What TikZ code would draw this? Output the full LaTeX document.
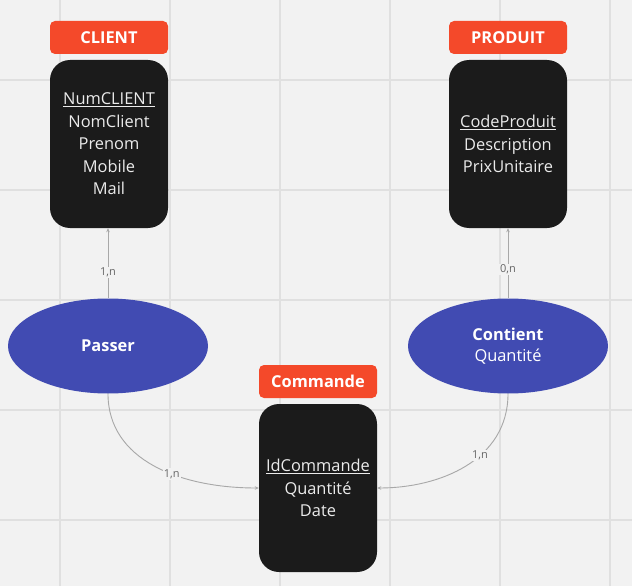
\documentclass[tikz,border=0pt]{standalone}
\usepackage{fontspec}
\setmainfont{Open Sans}
\usetikzlibrary{shapes.geometric,arrows.meta}
\definecolor{bgc}{HTML}{F2F2F2}
\definecolor{gridc}{HTML}{E0E0E0}
\definecolor{orangec}{HTML}{F4492A}
\definecolor{boxc}{HTML}{1B1B1B}
\definecolor{bluec}{HTML}{414BB2}
\definecolor{linec}{HTML}{A8A8A8}
\definecolor{lblc}{HTML}{666666}
\definecolor{txtc}{HTML}{EBEBEB}
\tikzset{
  title/.style={draw=none, fill=orangec, rounded corners=5pt, minimum width=118pt, minimum height=33pt, inner sep=0pt, text=white, font=\fontsize{16.4}{18}\selectfont\bfseries},
  entity/.style={fill=boxc, rounded corners=20pt, minimum width=118pt, minimum height=168pt, inner sep=0pt, text=txtc, align=center, font=\fontsize{16.4}{22.5}\selectfont},
  assoc/.style={ellipse, fill=bluec, minimum width=200pt, minimum height=95pt, inner sep=0pt, text=white, align=center, font=\fontsize{16.4}{21.5}\selectfont},
  conn/.style={draw=linec, line width=0.9pt, -{Stealth[length=4pt,width=3.5pt]}},
  card/.style={fill=bgc, text=lblc, inner sep=1pt, font=\fontsize{11}{12}\selectfont},
}
\begin{document}
\begin{tikzpicture}[x=1pt,y=-1pt]
\useasboundingbox (0,0) rectangle (632,586);
\fill[bgc] (0,0) rectangle (632,586);
\foreach \gx in {60,170,280,390,500,610} \draw[gridc, line width=1.2pt] (\gx,0) -- (\gx,586);
\foreach \gy in {80,190,300,410,520} \draw[gridc, line width=1.2pt] (0,\gy) -- (632,\gy);

\node[title] (tclient) at (109,37.5) {CLIENT};
\node[entity] (client) at (109,144) {\underline{NumCLIENT}\\NomClient\\Prenom\\Mobile\\Mail};
\node[title] (tproduit) at (508,37.5) {PRODUIT};
\node[entity] (produit) at (508,144) {\underline{CodeProduit}\\Description\\PrixUnitaire};
\node[title] (tcommande) at (318,381.5) {Commande};
\node[entity] (commande) at (318,488) {\underline{IdCommande}\\Quantité\\Date};

\node[assoc] (passer) at (108,346) {\textbf{Passer}};
\node[assoc] (contient) at (508,346) {\textbf{Contient}\\Quantité};

\draw[conn] (passer.north) -- node[card, pos=0.37] {1,n} (client.south -| passer.north);
\draw[conn] (contient.north) -- node[card, pos=0.41] {0,n} (produit.south);
\draw[conn] (passer.south) .. controls (108,460) and (180,488) .. node[card, pos=0.6] {1,n} (commande.west);
\draw[conn] (contient.south) .. controls (508,460) and (440,488) .. node[card, pos=0.4] {1,n} (commande.east);
\end{tikzpicture}
\end{document}
